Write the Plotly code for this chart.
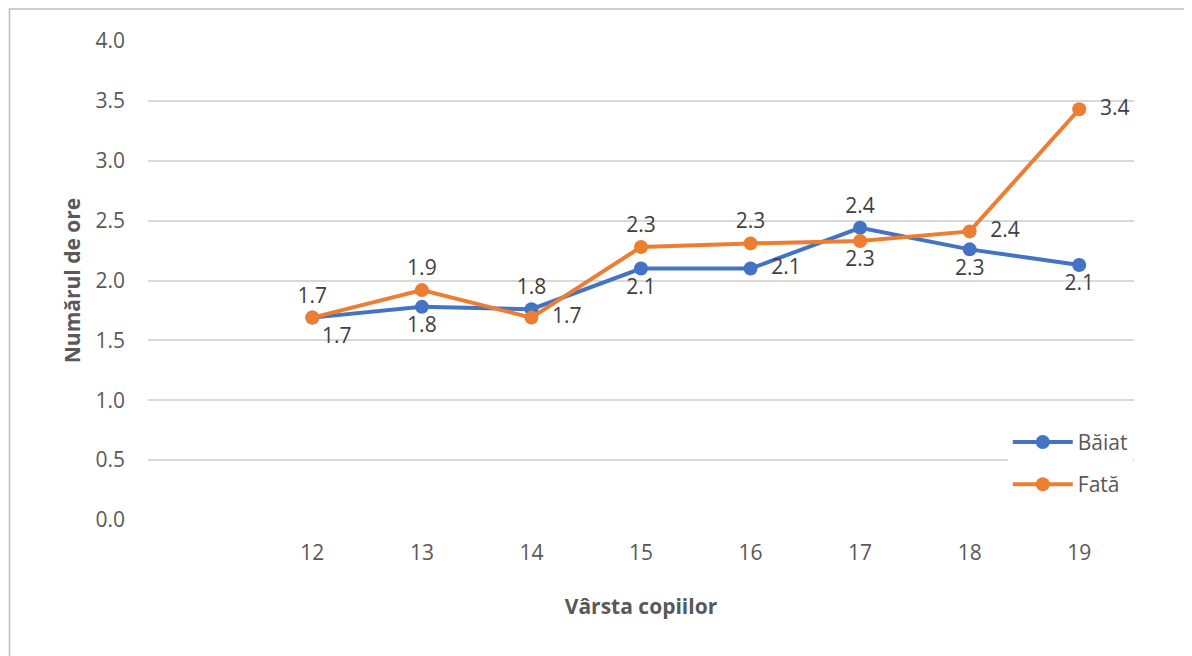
import plotly.graph_objects as go

ages = [12, 13, 14, 15, 16, 17, 18, 19]
baiat = [1.69, 1.78, 1.76, 2.10, 2.10, 2.44, 2.26, 2.13]
fata = [1.69, 1.92, 1.69, 2.28, 2.31, 2.33, 2.41, 3.43]
y_ticks = [0.0, 0.5, 1.0, 1.5, 2.0, 2.5, 3.0, 3.5, 4.0]

pos_baiat = ["bottom right", "bottom center", "top center", "bottom center",
             "middle right", "top center", "bottom center", "bottom center"]
pos_fata = ["top center", "top center", "middle right", "top center",
            "top center", "bottom center", "middle right", "middle right"]


def labels(vals, pos):
    out = []
    for v, p in zip(vals, pos):
        s = f"{v:.1f}"
        if p == "middle right":
            s = "  " + s
        out.append(s)
    return out


FONT = "Open Sans"
TXT = "#404040"
FS = 21

fig = go.Figure()
fig.add_trace(go.Scatter(
    x=ages, y=baiat, name="Băiat", legendgroup="b", mode="lines+markers+text",
    line=dict(color="#4472C4", width=4), marker=dict(size=14, color="#4472C4"),
    text=labels(baiat, pos_baiat), textposition=pos_baiat,
    textfont=dict(family=FONT, size=FS, color=TXT), cliponaxis=False))
fig.add_trace(go.Scatter(
    x=ages, y=fata, name="Fată", legendgroup="f", mode="lines+markers+text",
    line=dict(color="#ED7D31", width=4), marker=dict(size=14, color="#ED7D31"),
    text=labels(fata, pos_fata), textposition=pos_fata,
    textfont=dict(family=FONT, size=FS, color=TXT), cliponaxis=False))

fig.update_layout(
    width=1192, height=656,
    margin=dict(l=140, r=66, t=33, b=144),
    paper_bgcolor="white", plot_bgcolor="white",
    font=dict(family=FONT, color="#595959", size=FS),
    showlegend=True,
    legend=dict(x=0.872, y=0.205, xanchor="left", yanchor="top",
                bgcolor="white", font=dict(size=FS, color="#595959"),
                itemwidth=60, tracegroupgap=12, traceorder="grouped"),
    xaxis=dict(range=[10.5, 19.5], tickvals=ages, ticktext=[str(a) for a in ages],
               showgrid=False, zeroline=False, showline=False, ticks="",
               ticklabelstandoff=18,
               tickfont=dict(size=FS, color="#595959"),
               title=dict(text="<b>Vârsta copiilor</b>", standoff=34,
                          font=dict(size=FS, color="#595959"))),
    yaxis=dict(range=[0, 4.0], tickvals=y_ticks,
               ticktext=[f"{v:.1f}" for v in y_ticks],
               showgrid=True, gridcolor="#d9d9d9", gridwidth=1.5,
               zeroline=False, showline=False, ticks="", ticklabelstandoff=22,
               tickfont=dict(size=FS, color="#595959"),
               title=dict(text="<b>Numărul de ore</b>", standoff=9,
                          font=dict(size=FS, color="#595959"))),
)

fig.add_shape(type="rect", xref="paper", yref="paper",
              x0=-0.1405, x1=1.057, y0=-0.3, y1=1.067,
              line=dict(color="#bfbfbf", width=1.5), fillcolor="rgba(0,0,0,0)",
              layer="below")

fig.write_html("out.html")
